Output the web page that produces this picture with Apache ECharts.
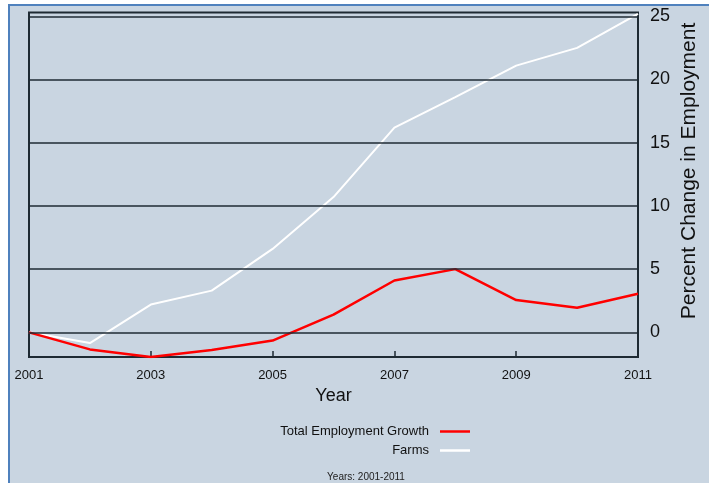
<!DOCTYPE html>
<html>
<head>
<meta charset="utf-8">
<script src="https://cdn.jsdelivr.net/npm/echarts@6/dist/echarts.min.js"></script>
<style>
html,body{margin:0;padding:0;background:#ffffff;}
#chart{width:709px;height:483px;}
</style>
</head>
<body>
<div id="chart"></div>
<script>
var years = ['2001','2002','2003','2004','2005','2006','2007','2008','2009','2010','2011'];
var totalEmployment = [0, -1.35, -1.95, -1.4, -0.65, 1.4, 4.1, 5.0, 2.55, 1.95, 3.05];
var farms = [0, -0.85, 2.2, 3.3, 6.6, 10.7, 16.2, 18.6, 21.1, 22.5, 25.2];
var yTicks = [0, 5, 10, 15, 20, 25];
var seriesNames = ['Total Employment Growth', 'Farms'];
var footnote = 'Years: 2001-2011';
var yTitle = 'Percent Change in Employment';
var xTitle = 'Year';

var chart = echarts.init(document.getElementById('chart'), null, {renderer: 'canvas'});
var font = 'Liberation Sans, Arial, sans-serif';
chart.setOption({
  backgroundColor: '#ffffff',
  animation: false,
  graphic: [
    {type: 'rect', z: -10, shape: {x: 9, y: 5, width: 720, height: 500},
     style: {fill: '#c9d5e1', stroke: '#4f81bd', lineWidth: 2}},
    {type: 'text', x: 689, y: 171, rotation: Math.PI / 2,
     style: {text: yTitle, font: '21px ' + font, fill: '#111', textAlign: 'center', textVerticalAlign: 'middle'}},
    {type: 'text', x: 366, y: 477,
     style: {text: footnote, font: '10px ' + font, fill: '#222', textAlign: 'center', textVerticalAlign: 'middle'}}
  ],
  grid: {left: 29, right: 71, top: 12.5, bottom: 126, show: true, borderColor: '#1e2a33', borderWidth: 2, backgroundColor: 'transparent'},
  legend: [
    {data: [seriesNames[0]], right: 234, top: 420, orient: 'vertical', align: 'right',
     icon: 'rect', itemWidth: 30, itemHeight: 2.5, textStyle: {fontSize: 13, fontFamily: font, color: '#111', padding: [0, 6, 0, 0]}},
    {data: [seriesNames[1]], right: 234, top: 439, orient: 'vertical', align: 'right',
     icon: 'rect', itemWidth: 30, itemHeight: 2.5, textStyle: {fontSize: 13, fontFamily: font, color: '#111', padding: [0, 6, 0, 0]}}
  ],
  xAxis: {
    type: 'category', data: years, boundaryGap: false,
    name: xTitle, nameLocation: 'middle', nameGap: 26,
    nameTextStyle: {fontSize: 18, fontFamily: font, color: '#111'},
    axisLine: {show: true, onZero: false, lineStyle: {color: '#1e2a33', width: 2}},
    axisTick: {show: true, inside: true, length: 6, interval: 1, lineStyle: {color: '#1e2a33', width: 1.5}},
    axisLabel: {interval: 1, margin: 12, fontSize: 13, fontFamily: font, color: '#111'},
    splitLine: {show: false}
  },
  yAxis: {
    type: 'value', position: 'right', min: -1.95, max: 25.3,
    axisLine: {show: false},
    axisTick: {show: false},
    axisLabel: {customValues: yTicks, margin: 12, fontSize: 18, fontFamily: font, color: '#111'},
    splitLine: {show: false}
  },
  series: [
    {name: 'grid', type: 'line', data: [], z: 1, silent: true,
     markLine: {silent: true, symbol: 'none', label: {show: false},
       lineStyle: {color: '#1e2a33', width: 1.6, type: 'solid'},
       data: yTicks.map(function (v) { return {yAxis: v}; })}},
    {name: seriesNames[1], type: 'line', data: farms, z: 3, symbol: 'none',
     lineStyle: {color: '#ffffff', width: 2}, itemStyle: {color: '#ffffff'}},
    {name: seriesNames[0], type: 'line', data: totalEmployment, z: 4, symbol: 'none',
     lineStyle: {color: '#ff0000', width: 2.5}, itemStyle: {color: '#ff0000'}}
  ]
});
</script>
</body>
</html>
